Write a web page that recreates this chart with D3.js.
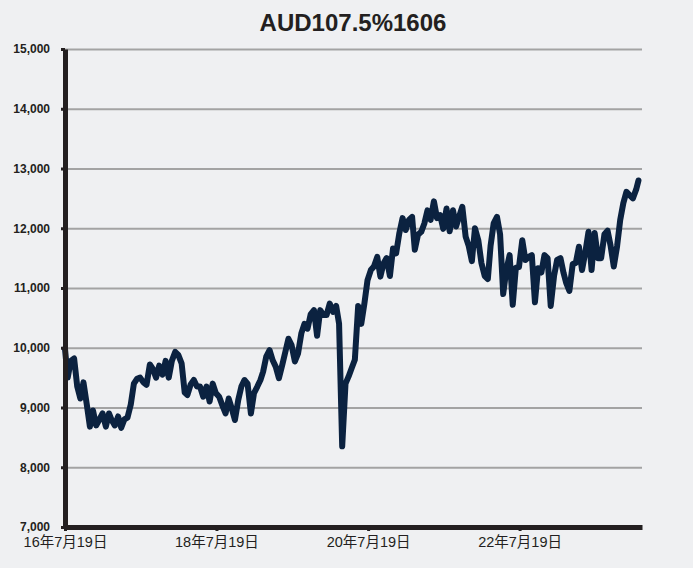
<!DOCTYPE html>
<html>
<head>
<meta charset="utf-8">
<script src="https://cdn.jsdelivr.net/npm/d3@7"></script>
<style>
  body { margin: 0; background: #eff0f2; }
  svg { display: block; }
</style>
</head>
<body>
<svg id="chart" width="693" height="568"></svg>
<script>
var title = "AUD107.5%1606";

var dates = [
  "2016-07-19","2016-08-01","2016-08-16","2016-09-01","2016-09-16","2016-10-01","2016-10-16","2016-11-01","2016-11-16","2016-12-01","2016-12-16",
  "2017-01-01","2017-01-16","2017-02-01","2017-02-16","2017-03-01","2017-03-16","2017-04-01","2017-04-16","2017-05-01","2017-05-16","2017-06-01","2017-06-16",
  "2017-07-01","2017-07-16","2017-08-01","2017-08-16","2017-09-01","2017-09-16","2017-10-01","2017-10-16","2017-11-01","2017-11-16","2017-12-01","2017-12-16",
  "2018-01-01","2018-01-16","2018-02-01","2018-02-16","2018-03-01","2018-03-16","2018-04-01","2018-04-16","2018-05-01","2018-05-16","2018-06-01","2018-06-16",
  "2018-07-01","2018-07-16","2018-08-01","2018-08-16","2018-09-01","2018-09-16","2018-10-01","2018-10-16","2018-11-01","2018-11-16","2018-12-01","2018-12-16",
  "2019-01-01","2019-01-16","2019-02-01","2019-02-16","2019-03-01","2019-03-16","2019-04-01","2019-04-16","2019-05-01","2019-05-16","2019-06-01","2019-06-16",
  "2019-07-01","2019-07-16","2019-08-01","2019-08-16","2019-09-01","2019-09-16","2019-10-01","2019-10-16","2019-11-01","2019-11-16","2019-12-01","2019-12-16",
  "2020-01-01","2020-01-16","2020-02-01","2020-02-16","2020-03-01","2020-03-16","2020-04-01","2020-04-16","2020-05-01","2020-05-16","2020-06-01","2020-06-16",
  "2020-07-01","2020-07-16","2020-08-01","2020-08-16","2020-09-01","2020-09-16","2020-10-01","2020-10-16","2020-11-01","2020-11-16","2020-12-01","2020-12-16",
  "2021-01-01","2021-01-16","2021-02-01","2021-02-16","2021-03-01","2021-03-16","2021-04-01","2021-04-16","2021-05-01","2021-05-16","2021-06-01","2021-06-16",
  "2021-07-01","2021-07-16","2021-08-01","2021-08-16","2021-09-01","2021-09-16","2021-10-01","2021-10-16","2021-11-01","2021-11-16","2021-12-01","2021-12-16",
  "2022-01-01","2022-01-16","2022-02-01","2022-02-16","2022-03-01","2022-03-16","2022-04-01","2022-04-16","2022-05-01","2022-05-16","2022-06-01","2022-06-16",
  "2022-07-01","2022-07-16","2022-08-01","2022-08-16","2022-09-01","2022-09-16","2022-10-01","2022-10-16","2022-11-01","2022-11-16","2022-12-01","2022-12-16",
  "2023-01-01","2023-01-16","2023-02-01","2023-02-16","2023-03-01","2023-03-16","2023-04-01","2023-04-16","2023-05-01","2023-05-16","2023-06-01","2023-06-16",
  "2023-07-01","2023-07-16","2023-08-01","2023-08-16","2023-09-01","2023-09-16","2023-10-01","2023-10-16","2023-11-01","2023-11-16","2023-12-01","2023-12-16",
  "2024-01-01","2024-01-16","2024-02-01","2024-02-12"
];

var values = [
  9980,9500,9780,9820,9350,9150,9420,9050,8680,8950,8700,
  8800,8900,8680,8900,8790,8700,8850,8660,8800,8830,9050,9400,
  9480,9500,9420,9380,9720,9640,9500,9700,9550,9780,9500,9780,
  9930,9880,9740,9250,9210,9380,9460,9350,9350,9180,9350,9100,
  9400,9240,9180,9040,8900,9150,8980,8790,9125,9350,9460,9400,
  8900,9240,9350,9460,9600,9850,9960,9790,9680,9490,9710,9930,
  10150,10045,9770,9900,10240,10400,10320,10560,10630,10200,10630,10550,
  10550,10740,10600,10700,10400,8350,9400,9520,9660,9800,10700,10400,
  10740,11130,11300,11360,11520,11190,11410,11500,11200,11660,11580,11910,
  12170,11970,12140,12190,11640,11890,11940,12080,12300,12140,12450,12170,
  12220,11990,12330,11950,12300,12030,12200,12360,11860,11700,11450,12000,
  11800,11420,11200,11150,11700,12080,12190,11900,10900,11300,11550,10720,
  11340,11350,11800,11470,11520,11550,10760,11330,11260,11550,11500,10700,
  11200,11470,11500,11250,11080,10950,11400,11420,11690,11300,11600,11940,
  11300,11920,11500,11500,11900,11960,11700,11360,11700,12140,12420,12610,
  12550,12500,12650,12800
];

var yTicks = [7000, 8000, 9000, 10000, 11000, 12000, 13000, 14000, 15000];
var xTicks = ["2016-07-19", "2018-07-19", "2020-07-19", "2022-07-19"];

var parse = d3.timeParse("%Y-%m-%d");
var data = dates.map(function(d, i){ return { date: parse(d), value: values[i] }; });

var svg = d3.select("#chart");
var mLeft = 65, mRight = 642, mTop = 49, mBottom = 527;

var x = d3.scaleTime()
  .domain([parse("2016-07-19"), parse("2024-02-29")])
  .range([mLeft, mRight]);
var y = d3.scaleLinear()
  .domain([7000, 15000])
  .range([mBottom, mTop]);

svg.append("rect")
  .attr("width", 693).attr("height", 568)
  .attr("fill", "#eff0f2");

// title
svg.append("text")
  .attr("x", 353).attr("y", 31)
  .attr("text-anchor", "middle")
  .style("font-family", "'Liberation Sans', Arial, sans-serif")
  .style("font-weight", "bold")
  .style("font-size", "24px")
  .style("fill", "#231f20")
  .text(title);

// gridlines
var grid = svg.append("g")
  .attr("transform", "translate(" + mLeft + ",0)")
  .call(d3.axisRight(y).tickValues(yTicks).tickSize(mRight - mLeft).tickFormat(""));
grid.select(".domain").remove();
grid.selectAll("line").attr("stroke", "#a3a3a3").attr("stroke-width", 2);

// line
var line = d3.line()
  .x(function(d){ return x(d.date); })
  .y(function(d){ return y(d.value); });

svg.append("path")
  .datum(data)
  .attr("d", line)
  .attr("fill", "none")
  .attr("stroke", "#0b2240")
  .attr("stroke-width", 6)
  .attr("stroke-linejoin", "round")
  .attr("stroke-linecap", "round");

// y axis
var yAxis = svg.append("g")
  .attr("transform", "translate(" + mLeft + ",0)")
  .call(d3.axisLeft(y).tickValues(yTicks).tickSize(4).tickSizeOuter(0).tickPadding(11).tickFormat(d3.format(",")));
yAxis.select(".domain").attr("stroke", "#231f20").attr("stroke-width", 5);
yAxis.selectAll("line").attr("stroke", "#231f20").attr("stroke-width", 3);
yAxis.selectAll("text")
  .style("font-family", "'Liberation Sans', Arial, sans-serif")
  .style("font-weight", "bold")
  .style("font-size", "12px")
  .style("fill", "#231f20");

// x axis
var xAxis = svg.append("g")
  .attr("transform", "translate(0," + mBottom + ")")
  .call(d3.axisBottom(x).tickValues(xTicks.map(parse)).tickSize(4).tickSizeOuter(0).tickPadding(6)
    .tickFormat(d3.timeFormat("%y年%-m月%-d日")));
xAxis.select(".domain").attr("stroke", "#231f20").attr("stroke-width", 5);
xAxis.selectAll("line").attr("stroke", "#231f20").attr("stroke-width", 3);
xAxis.selectAll("text")
  .style("font-family", "'Liberation Sans', 'Noto Sans CJK JP', sans-serif")
  .style("font-size", "14.5px")
  .style("fill", "#231f20");
</script>
</body>
</html>
